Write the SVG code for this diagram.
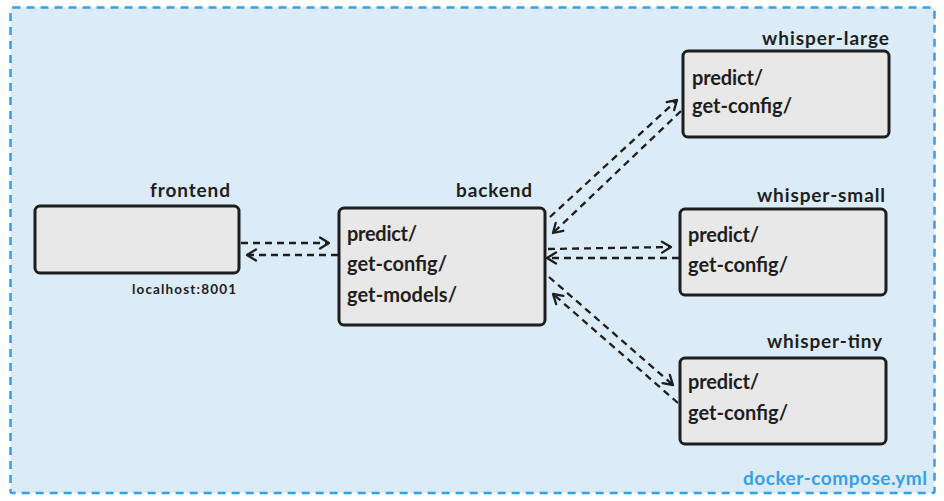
<svg xmlns="http://www.w3.org/2000/svg" width="944" height="501" viewBox="0 0 944 501">
<style>
.box{fill:#e8e8e8;stroke:#1e1e1e;stroke-width:3}
.t{font-family:Lato,"Open Sans","Liberation Sans",sans-serif;font-weight:700;fill:#1e1e1e}
.item{font-size:20px}
.title{font-size:19px;text-anchor:end}
.conn{fill:none;stroke:#1e1e1e;stroke-width:2.3;stroke-dasharray:7 5;marker-end:url(#ah)}
</style>
<defs>
<marker id="ah" markerUnits="userSpaceOnUse" orient="auto" refX="0" refY="0" markerWidth="24" markerHeight="24" viewBox="-12 -12 24 24" overflow="visible">
<path d="M-9,-5.5 L0,0 L-9,5.5" fill="none" stroke="#1e1e1e" stroke-width="2.3" stroke-dasharray="none" stroke-linecap="round" stroke-linejoin="round"/>
</marker>
</defs>
<g id="compose">
<rect x="10.5" y="7.5" width="924" height="485.5" rx="2" fill="#dbebf8" stroke="#359ff0" stroke-width="2.5" stroke-dasharray="8 6"/>
<text class="t" x="927" y="485" font-size="19" text-anchor="end" style="fill:#359ff0" textLength="184">docker-compose.yml</text>
</g>
<g id="connectors">
<line class="conn" x1="241" y1="243" x2="329" y2="243"/>
<line class="conn" x1="338" y1="255" x2="247" y2="255"/>
<line class="conn" x1="550" y1="217" x2="677" y2="100"/>
<line class="conn" x1="681" y1="111" x2="553" y2="233"/>
<line class="conn" x1="548" y1="249" x2="671" y2="247"/>
<line class="conn" x1="679" y1="258" x2="547" y2="258"/>
<line class="conn" x1="549" y1="277" x2="673" y2="385"/>
<line class="conn" x1="678" y1="403" x2="553" y2="294"/>
</g>
<g id="frontend">
<rect class="box" x="35" y="206" width="204" height="67" rx="5"/>
<text class="t title" x="230" y="197" textLength="80">frontend</text>
<text class="t" x="132" y="294" font-size="13.5" textLength="104">localhost:8001</text>
</g>
<g id="backend">
<rect class="box" x="339" y="208" width="206" height="117" rx="5"/>
<text class="t title" x="532" y="197" textLength="76">backend</text>
<text class="t item" x="347" y="241" textLength="70">predict/</text>
<text class="t item" x="347" y="271" textLength="100">get-config/</text>
<text class="t item" x="347" y="302" textLength="110">get-models/</text>
</g>
<g id="whisper-large">
<rect class="box" x="683" y="51" width="206" height="86" rx="5"/>
<text class="t title" x="889" y="45" textLength="127">whisper-large</text>
<text class="t item" x="692" y="85" textLength="71">predict/</text>
<text class="t item" x="692" y="113" textLength="100">get-config/</text>
</g>
<g id="whisper-small">
<rect class="box" x="680" y="209" width="206" height="86" rx="5"/>
<text class="t title" x="885" y="202" textLength="128">whisper-small</text>
<text class="t item" x="688" y="242" textLength="71">predict/</text>
<text class="t item" x="688" y="272" textLength="100">get-config/</text>
</g>
<g id="whisper-tiny">
<rect class="box" x="680" y="358" width="206" height="86" rx="5"/>
<text class="t title" x="882" y="348" textLength="115">whisper-tiny</text>
<text class="t item" x="688" y="389" textLength="71">predict/</text>
<text class="t item" x="688" y="420" textLength="100">get-config/</text>
</g>
</svg>
